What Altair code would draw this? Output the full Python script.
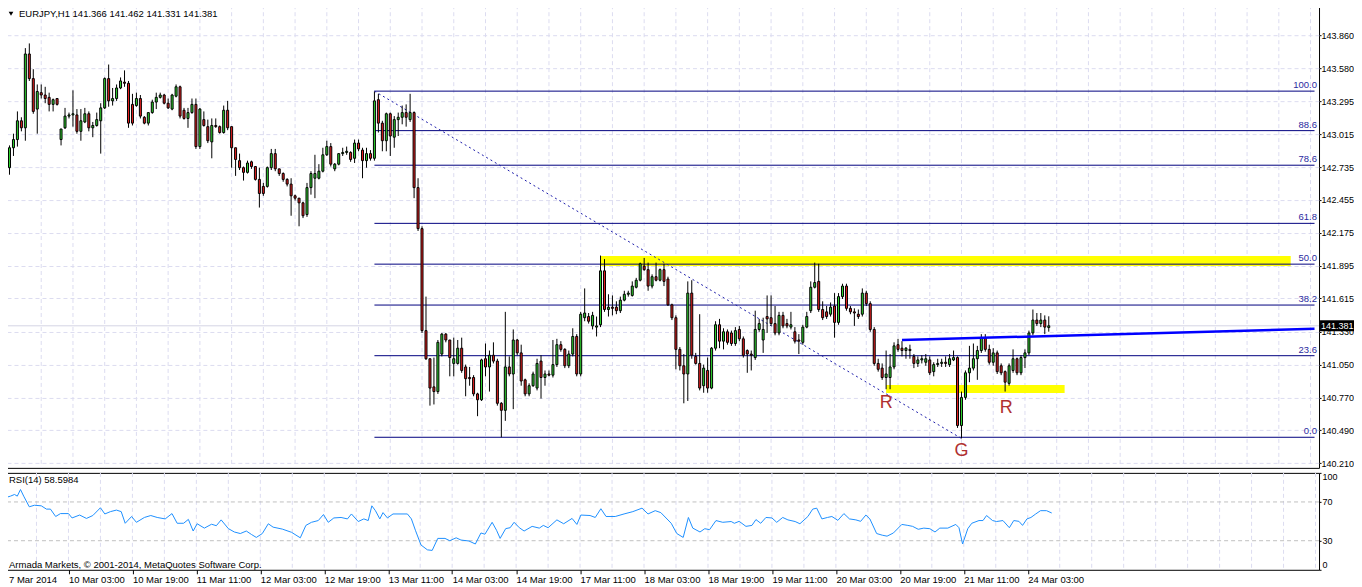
import altair as alt
import pandas as pd

FONT = "Liberation Sans"

# ---------------- candle data (EURJPY H1), bar index 0..262 ----------------
opens = [
    142.73, 142.90, 142.97, 143.13, 143.07, 143.70, 143.49, 143.23, 143.37, 143.35,
    143.33, 143.27, 143.32, 142.97, 143.07, 143.17, 143.18, 143.18, 143.04, 143.12,
    143.19, 143.07, 143.09, 143.13, 143.24, 143.49, 143.30, 143.32, 143.41, 143.46,
    143.45, 143.27, 143.26, 143.32, 143.16, 143.11, 143.20, 143.29, 143.33, 143.35,
    143.28, 143.23, 143.34, 143.42, 143.22, 143.15, 143.20, 143.27, 142.91, 143.14,
    143.08, 142.95, 143.09, 143.08, 143.03, 143.22, 143.08, 142.90, 142.79, 142.73,
    142.69, 142.78, 142.74, 142.63, 142.57, 142.57, 142.73, 142.85, 142.72, 142.68,
    142.63, 142.59, 142.49, 142.47, 142.43, 142.33, 142.56, 142.64, 142.64, 142.70,
    142.84, 142.91, 142.72, 142.76, 142.85, 142.86, 142.86, 142.81, 142.94, 142.88,
    142.79, 142.85, 142.81, 143.31, 143.11, 142.96, 143.19, 142.99, 143.14, 143.16,
    143.20, 143.14, 143.20, 142.56, 142.21, 141.34, 141.10, 140.86, 140.82, 141.14,
    141.31, 141.26, 141.06, 141.06, 141.19, 141.03, 140.94, 140.94, 140.80, 140.75,
    141.10, 141.03, 141.13, 141.08, 140.72, 140.66, 141.03, 140.97, 141.26, 141.15,
    140.92, 140.80, 140.87, 140.85, 141.08, 140.94, 140.97, 140.96, 141.05, 141.22,
    141.18, 141.04, 141.14, 141.29, 140.97, 141.45, 141.46, 141.38, 141.37, 141.39,
    141.85, 141.52, 141.54, 141.54, 141.51, 141.60, 141.65, 141.64, 141.71, 141.77,
    141.89, 141.86, 141.72, 141.80, 141.77, 141.86, 141.78, 141.56, 141.45, 141.18,
    141.04, 140.97, 141.66, 141.12, 141.06, 140.87, 141.00, 140.85, 141.19, 141.39,
    141.25, 141.33, 141.32, 141.23, 141.35, 141.27, 141.17, 141.14, 141.11, 141.35,
    141.26, 141.46, 141.45, 141.40, 141.32, 141.47, 141.40, 141.37, 141.33, 141.26,
    141.24, 141.37, 141.51, 141.71, 141.76, 141.52, 141.50, 141.48, 141.55, 141.41,
    141.63, 141.72, 141.53, 141.50, 141.48, 141.48, 141.66, 141.57, 141.35, 141.06,
    141.02, 140.94, 140.94, 141.03, 141.22, 141.19, 141.17, 141.18, 141.12, 141.06,
    141.09, 141.07, 141.09, 140.99, 141.05, 141.06, 141.07, 141.05, 141.09, 141.11,
    140.53, 140.77, 140.98, 141.02, 141.10, 141.17, 141.28, 141.18, 141.07, 141.15,
    141.04, 140.99, 140.89, 141.00, 141.10, 140.98, 141.11, 141.15, 141.32, 141.43,
    141.40, 141.43, 141.366,
]
highs = [
    142.92, 143.02, 143.21, 143.16, 143.75, 143.79, 143.57, 143.44, 143.44, 143.42,
    143.37, 143.32, 143.32, 143.06, 143.24, 143.20, 143.39, 143.23, 143.23, 143.24,
    143.21, 143.12, 143.20, 143.28, 143.50, 143.61, 143.41, 143.44, 143.50, 143.56,
    143.47, 143.36, 143.37, 143.35, 143.17, 143.20, 143.31, 143.37, 143.37, 143.36,
    143.32, 143.36, 143.44, 143.43, 143.24, 143.24, 143.32, 143.32, 143.24, 143.21,
    143.14, 143.15, 143.15, 143.09, 143.26, 143.30, 143.08, 142.90, 142.85, 142.74,
    142.79, 142.79, 142.74, 142.73, 142.60, 142.74, 142.89, 142.89, 142.72, 142.69,
    142.64, 142.64, 142.50, 142.47, 142.44, 142.60, 142.70, 142.84, 142.76, 142.90,
    142.96, 142.94, 142.77, 142.85, 142.90, 142.91, 142.87, 142.97, 142.97, 142.90,
    142.90, 142.88, 143.38, 143.36, 143.13, 143.20, 143.20, 143.17, 143.20, 143.26,
    143.27, 143.36, 143.21, 142.64, 142.23, 141.63, 141.10, 141.11, 141.26, 141.32,
    141.32, 141.26, 141.28, 141.26, 141.28, 141.05, 141.03, 140.96, 140.81, 141.10,
    141.23, 141.17, 141.24, 141.10, 140.73, 141.50, 141.12, 141.35, 141.27, 141.22,
    140.93, 140.89, 140.99, 141.10, 141.13, 141.00, 141.00, 141.26, 141.27, 141.25,
    141.19, 141.17, 141.36, 141.31, 141.50, 141.70, 141.49, 141.50, 141.46, 141.98,
    141.95, 141.65, 141.64, 141.59, 141.63, 141.68, 141.68, 141.76, 141.79, 141.92,
    141.96, 141.92, 141.82, 141.92, 141.87, 141.91, 141.80, 141.57, 141.47, 141.20,
    141.14, 141.76, 141.77, 141.15, 141.48, 141.05, 141.11, 141.20, 141.42, 141.44,
    141.36, 141.35, 141.34, 141.37, 141.38, 141.29, 141.18, 141.17, 141.51, 141.44,
    141.45, 141.64, 141.64, 141.55, 141.50, 141.50, 141.44, 141.50, 141.37, 141.31,
    141.39, 141.50, 141.76, 141.92, 141.91, 141.59, 141.55, 141.58, 141.66, 141.66,
    141.74, 141.74, 141.55, 141.53, 141.52, 141.70, 141.68, 141.59, 141.37, 141.10,
    141.06, 141.17, 141.14, 141.24, 141.27, 141.25, 141.20, 141.22, 141.14, 141.12,
    141.13, 141.14, 141.12, 141.07, 141.10, 141.10, 141.12, 141.14, 141.17, 141.12,
    140.82, 141.00, 141.21, 141.23, 141.21, 141.31, 141.31, 141.22, 141.19, 141.17,
    141.06, 141.00, 141.06, 141.18, 141.11, 141.13, 141.18, 141.34, 141.52, 141.49,
    141.49, 141.47, 141.462,
]
lows = [
    142.67, 142.83, 142.91, 143.04, 142.96, 143.47, 143.19, 143.02, 143.32, 143.28,
    143.21, 143.21, 143.26, 142.92, 143.06, 143.15, 143.08, 143.02, 142.96, 143.11,
    143.04, 142.99, 143.08, 142.85, 143.23, 143.25, 143.26, 143.30, 143.40, 143.42,
    143.07, 143.09, 143.25, 143.15, 143.10, 143.09, 143.19, 143.23, 143.32, 143.27,
    143.23, 143.22, 143.33, 143.15, 143.14, 143.07, 143.19, 142.89, 142.89, 143.08,
    142.94, 142.81, 143.07, 143.02, 143.02, 143.05, 142.73, 142.66, 142.71, 142.62,
    142.68, 142.72, 142.62, 142.39, 142.49, 142.56, 142.71, 142.70, 142.66, 142.61,
    142.57, 142.32, 142.45, 142.23, 142.30, 142.31, 142.50, 142.47, 142.63, 142.69,
    142.83, 142.74, 142.70, 142.75, 142.83, 142.84, 142.78, 142.77, 142.87, 142.64,
    142.73, 142.79, 142.79, 143.03, 142.87, 142.87, 142.83, 142.90, 143.00, 143.10,
    143.08, 143.12, 142.47, 142.19, 141.32, 141.09, 140.70, 140.71, 140.80, 141.12,
    141.24, 140.95, 140.95, 141.05, 140.98, 140.78, 140.87, 140.78, 140.61, 140.74,
    140.95, 140.82, 141.06, 140.70, 140.43, 140.57, 140.95, 140.67, 141.13, 140.87,
    140.78, 140.78, 140.86, 140.83, 140.76, 140.87, 140.95, 140.94, 141.03, 141.16,
    141.02, 141.02, 141.12, 140.95, 140.95, 141.42, 141.40, 141.35, 141.29, 141.37,
    141.50, 141.46, 141.47, 141.48, 141.49, 141.59, 141.63, 141.63, 141.70, 141.76,
    141.85, 141.68, 141.70, 141.76, 141.76, 141.72, 141.55, 141.43, 141.01, 141.00,
    140.72, 140.74, 141.10, 141.05, 140.83, 140.81, 140.81, 140.84, 141.17, 141.19,
    141.18, 141.22, 141.21, 141.21, 141.25, 141.11, 140.98, 141.00, 141.09, 141.33,
    141.15, 141.32, 141.38, 141.30, 141.30, 141.36, 141.36, 141.35, 141.23, 141.14,
    141.22, 141.36, 141.49, 141.70, 141.50, 141.43, 141.44, 141.46, 141.28, 141.39,
    141.61, 141.51, 141.48, 141.38, 141.44, 141.46, 141.55, 141.33, 141.04, 140.99,
    140.92, 140.84, 140.84, 141.01, 141.16, 141.12, 141.10, 141.10, 141.02, 141.03,
    141.06, 141.04, 140.96, 140.95, 141.03, 141.03, 141.03, 141.03, 141.08, 140.51,
    140.42, 140.75, 140.90, 141.00, 140.92, 141.15, 141.16, 141.05, 141.04, 140.97,
    140.96, 140.82, 140.87, 140.98, 140.96, 140.96, 141.02, 141.13, 141.30, 141.38,
    141.37, 141.31, 141.331,
]
closes = [
    142.90, 142.97, 143.13, 143.07, 143.70, 143.49, 143.21, 143.38, 143.35, 143.32,
    143.27, 143.31, 143.27, 143.06, 143.17, 143.18, 143.19, 143.04, 143.13, 143.19,
    143.07, 143.09, 143.14, 143.24, 143.49, 143.30, 143.32, 143.41, 143.47, 143.45,
    143.11, 143.11, 143.32, 143.17, 143.11, 143.20, 143.29, 143.33, 143.35, 143.28,
    143.24, 143.35, 143.42, 143.17, 143.15, 143.20, 143.27, 142.91, 143.23, 143.09,
    142.96, 143.09, 143.08, 143.03, 143.22, 143.07, 142.90, 142.80, 142.73, 142.69,
    142.77, 142.74, 142.63, 142.51, 142.51, 142.73, 142.85, 142.72, 142.68, 142.63,
    142.59, 142.49, 142.47, 142.43, 142.32, 142.56, 142.68, 142.68, 142.70, 142.84,
    142.91, 142.76, 142.76, 142.85, 142.86, 142.87, 142.80, 142.94, 142.89, 142.79,
    142.85, 142.81, 143.30, 143.11, 142.96, 143.19, 143.00, 143.14, 143.16, 143.20,
    143.16, 143.20, 142.56, 142.21, 141.34, 141.10, 140.85, 140.82, 141.24, 141.31,
    141.26, 141.11, 141.10, 141.19, 141.00, 140.93, 140.93, 140.80, 140.75, 141.09,
    141.03, 141.13, 141.08, 140.72, 140.66, 141.03, 140.97, 141.26, 141.15, 140.91,
    140.80, 140.87, 140.97, 141.06, 140.94, 140.97, 140.96, 141.05, 141.22, 141.18,
    141.04, 141.14, 141.29, 140.97, 141.48, 141.49, 141.42, 141.47, 141.38, 141.85,
    141.52, 141.54, 141.53, 141.51, 141.60, 141.65, 141.66, 141.72, 141.77, 141.91,
    141.86, 141.72, 141.80, 141.77, 141.86, 141.76, 141.56, 141.45, 141.18, 141.04,
    140.97, 141.66, 141.13, 141.06, 140.85, 141.02, 140.85, 141.19, 141.39, 141.25,
    141.33, 141.24, 141.23, 141.34, 141.27, 141.13, 141.14, 141.13, 141.35, 141.40,
    141.35, 141.44, 141.40, 141.32, 141.47, 141.38, 141.38, 141.39, 141.25, 141.25,
    141.37, 141.46, 141.71, 141.75, 141.52, 141.45, 141.46, 141.54, 141.41, 141.63,
    141.72, 141.53, 141.50, 141.49, 141.46, 141.66, 141.57, 141.35, 141.06, 141.01,
    140.94, 140.97, 141.03, 141.21, 141.18, 141.17, 141.19, 141.17, 141.06, 141.09,
    141.10, 141.10, 140.98, 141.05, 141.06, 141.07, 141.06, 141.10, 141.11, 140.53,
    140.77, 140.98, 141.02, 141.10, 141.17, 141.28, 141.18, 141.07, 141.15, 140.99,
    140.98, 140.90, 141.04, 141.10, 140.98, 141.11, 141.15, 141.32, 141.43, 141.40,
    141.43, 141.37, 141.381,
]

# ---------------- RSI(14) readings (bar index, value) ----------------
rsi_bars = [
    0.2, 1.5, 2.5, 3.2, 4, 4.8, 6.2, 7.5, 9.2, 10.5,
    11.5, 12.8, 14, 16, 16.9, 18.8, 20.5, 22.1, 24, 25.1,
    26.5, 28, 29.2, 30.2, 31.8, 33, 35, 36.6, 38.2, 40.2,
    41.9, 43.2, 44.8, 46, 47.2, 48.2, 50, 51.8, 53, 54.2,
    56, 57.5, 59, 60.5, 61.8, 63, 64.5, 66, 67.2, 69.5,
    71.8, 74, 75.4, 76.8, 78.5, 79.8, 81, 82.4, 84.2, 85.8,
    86.8, 88.5, 89.9, 91, 91.9, 92.8, 93.9, 94.7, 95.8, 97.2,
    99.2, 100.8, 101.8, 102.8, 104.2, 105.8, 107, 108.4, 110.2, 111.4,
    113, 114.2, 116.2, 117.8, 119.2, 120.2, 122, 123.1, 124, 125.4,
    126.5, 127.5, 128.8, 130, 132, 133.8, 134.8, 136, 138.2, 139.9,
    142, 143.2, 144.2, 146.5, 147.8, 149.2, 150.5, 152.8, 155, 157.2,
    159.5, 161, 162.8, 164.2, 166.8, 168.2, 169.8, 171.1, 172.2, 174,
    175.2, 176.4, 178, 179.7, 181.8, 182.6, 183.8, 185.5, 187, 188,
    189.2, 190.5, 192, 193.2, 194.7, 196, 197.8, 199, 201, 202.2,
    203.2, 204.5, 205.9, 207, 208.5, 210, 211.4, 213, 214.2, 215.5,
    216.5, 218.2, 219.6, 220.8, 222.4, 224.5, 226, 227.2, 228.6, 230,
    231.5, 232.8, 234, 236, 238, 238.8, 239.7, 241, 242, 243.8,
    244.8, 245.7, 247.2, 248.2, 249.8, 251.4, 252.5, 253.8, 254.7, 255.8,
    256.8, 258, 259.2, 260.7, 262,
]
rsi_vals = [
    74.4, 76, 77.7, 76, 82.8, 76, 65, 66.6, 66, 62.6,
    62.6, 55, 58, 58, 53.5, 56.5, 53, 56, 64, 57.6,
    60, 61.6, 60, 48, 55, 49, 54, 56, 54, 52.5,
    58, 48, 48, 52, 40, 47.5, 43, 47, 45.5, 51.5,
    42.5, 39, 37.4, 40, 36.4, 33.4, 37.4, 47.5, 44, 42,
    38.7, 33, 45.8, 49, 50.8, 57, 49, 53.5, 54, 52.5,
    57.6, 49.8, 52.5, 50.8, 66, 61, 52.5, 59, 53.5, 57.6,
    57.6, 57.6, 52.5, 40.8, 25.6, 20.6, 20, 32.4, 32.4, 30,
    33, 30.7, 29.7, 26.6, 38, 36.7, 49, 40.8, 32.4, 42.5,
    43.4, 49, 43.4, 40, 44.8, 43, 45.8, 43.4, 51.5, 47.5,
    53, 46.8, 56.5, 56, 54, 63, 55, 55, 57.6, 60,
    63.6, 57.6, 61, 59, 48, 37.4, 33.4, 54, 43, 39,
    42.4, 41.4, 50.8, 49, 49.8, 48, 50, 44.8, 45.8, 51.8,
    48, 54, 53.5, 49, 54, 51.5, 49.8, 47.5, 55, 62.6,
    63.6, 52.5, 54, 55, 51, 58, 52.5, 51.5, 50, 56.5,
    52.5, 37.4, 35.7, 34.7, 38, 46.8, 45.8, 44.8, 41.8, 43,
    42.4, 39, 43, 43, 46.8, 43.4, 26.6, 42.4, 48, 50.8,
    50.8, 56, 50.8, 49.8, 50.8, 43.4, 50.8, 50, 45.8, 52.5,
    54, 57.6, 61, 61, 58.6,
]
rsi_levels = [30, 70]
rsi_ticks = [0, 30, 70, 100]

# ---------------- axes ----------------
price_ticks = [143.860, 143.580, 143.295, 143.015, 142.735, 142.455, 142.175,
               141.895, 141.615, 141.330, 141.050, 140.770, 140.490, 140.210]
time_label_bars = [0, 16, 32, 48, 64, 80, 96, 112, 128, 144, 160, 176, 192, 208, 224, 240, 256]
time_labels = ["7 Mar 2014", "10 Mar 03:00", "10 Mar 19:00", "11 Mar 11:00", "12 Mar 03:00",
               "12 Mar 19:00", "13 Mar 11:00", "14 Mar 03:00", "14 Mar 19:00", "17 Mar 11:00",
               "18 Mar 03:00", "18 Mar 19:00", "19 Mar 11:00", "20 Mar 03:00", "20 Mar 19:00",
               "21 Mar 11:00", "24 Mar 03:00"]
grid_bars = list(range(8, 329, 8))

# ---------------- drawings ----------------
fib_levels = ["0.0", "23.6", "38.2", "50.0", "61.8", "78.6", "88.6", "100.0"]
fib_prices = [140.430, 141.126, 141.558, 141.907, 142.255, 142.751, 143.046, 143.383]
fib_start_bar = 92
fib_end_bar = 329
diag_bars = [92, 240]
diag_prices = [143.383, 140.42]
zone_start = [149, 221]
zone_end = [323, 266]
zone_top = [141.976, 140.876]
zone_bottom = [141.891, 140.808]
trend_bars = [225, 329]
trend_prices = [141.26, 141.355]
mark_bars = [221, 251.25, 240]
mark_prices = [140.723, 140.68, 140.314]
mark_texts = ["R", "R", "G"]
bid_price = [141.381]
bid_text = ["141.381"]
title_text = "EURJPY,H1  141.366 141.462 141.331 141.381"
rsi_title = "RSI(14) 58.5984"
copyright_text = "Armada Markets, \u00a9 2001-2014, MetaQuotes Software Corp."

UP = "#2fd42f"
DOWN = "#e41f1f"
GRID = "#dcdcf0"
NAVY = "#000080"

W = 1317
H_MAIN = 463
H_RSI = 97

x_scale = alt.Scale(domain=[-0.375, 328.875], nice=False, zero=False)
y_scale = alt.Scale(domain=[140.169, 144.116], nice=False, zero=False)
r_scale = alt.Scale(domain=[0, 100], nice=False, zero=False)

label_style = dict(labelFont=FONT, labelColor="black", labelOverlap=False,
                   domain=False, title=None, tickColor="black")
AY = alt.Axis(orient="right", values=price_ticks, format=".3f", grid=True, gridColor=GRID,
              gridDash=[4, 3], gridWidth=1, tickSize=2, labelPadding=0, labelFontSize=9,
              **label_style)
label_js = "[" + ",".join("'" + s + "'" for s in time_labels) + "][round(datum.value/16)]"
AX = alt.Axis(orient="bottom", values=time_label_bars[1:], labelExpr=label_js, labelAlign="left",
              labelBaseline="top", tickSize=4, labelPadding=1, grid=False, labelFlush=False,
              labelFontSize=9.5, **label_style)
AR = alt.Axis(orient="right", values=rsi_ticks, tickSize=2, grid=False, labelPadding=1,
              labelFlush=True, labelFontSize=9, **label_style)

candles = pd.DataFrame({
    "bar": list(range(len(opens))),
    "open": opens, "high": highs, "low": lows, "close": closes,
})
candles["dir"] = ["up" if c >= o else "down" for o, c in zip(opens, closes)]

grid_df = pd.DataFrame({"bar": grid_bars})
bid_df = pd.DataFrame({"price": bid_price, "t": bid_text})
zones_df = pd.DataFrame({"x0": zone_start, "x1": zone_end, "y0": zone_bottom, "y1": zone_top})
fib_df = pd.DataFrame({"level": fib_levels, "price": fib_prices,
                       "x0": [fib_start_bar] * len(fib_prices), "x1": [fib_end_bar] * len(fib_prices)})
diag_df = pd.DataFrame({"bar": diag_bars, "price": diag_prices})
trend_df = pd.DataFrame({"bar": trend_bars, "price": trend_prices})
marks_df = pd.DataFrame({"bar": mark_bars, "price": mark_prices, "t": mark_texts})
title_df = pd.DataFrame({"t": [title_text]})


def X(f):
    return alt.X(f, scale=x_scale, axis=None)


def Y(f):
    return alt.Y(f, scale=y_scale, axis=AY)


vgrid = alt.Chart(grid_df).mark_rule(color=GRID, strokeDash=[4, 3], strokeWidth=1).encode(x=X("bar:Q"))

bid_line = alt.Chart(bid_df).mark_rule(color="#d4d4e4", strokeWidth=1).encode(y=Y("price:Q"))

zones = alt.Chart(zones_df).mark_rect(color="#ffff00").encode(
    x=X("x0:Q"), x2="x1:Q", y=Y("y0:Q"), y2="y1:Q")

fib_lines = alt.Chart(fib_df).mark_rule(color=NAVY, strokeWidth=1).encode(
    x=X("x0:Q"), x2="x1:Q", y=Y("price:Q"))

fib_labels = alt.Chart(fib_df).mark_text(align="right", baseline="bottom", dy=-1,
                                         font=FONT, fontSize=9.5, color="#2a2aa0").encode(
    x=alt.value(W - 2), y=Y("price:Q"), text="level:N")

diag = alt.Chart(diag_df).mark_line(color="#1c1caa", strokeDash=[2, 3], strokeWidth=1).encode(
    x=X("bar:Q"), y=Y("price:Q"))

wicks = alt.Chart(candles).mark_rule(color="black", strokeWidth=1).encode(
    x=X("bar:Q"), y=Y("low:Q"), y2="high:Q")

bodies = alt.Chart(candles).mark_bar(size=2, stroke="black", strokeWidth=1).encode(
    x=X("bar:Q"), y=Y("open:Q"), y2="close:Q",
    color=alt.Color("dir:N", scale=alt.Scale(domain=["up", "down"], range=[UP, DOWN]), legend=None))

trend = alt.Chart(trend_df).mark_line(color="#0000ff", strokeWidth=2.5).encode(
    x=X("bar:Q"), y=Y("price:Q"))

letters = alt.Chart(marks_df).mark_text(font=FONT, fontSize=18, color="#b03030",
                                         baseline="middle", align="center").encode(
    x=X("bar:Q"), y=Y("price:Q"), text="t:N")

tag = alt.Chart(bid_df).mark_tick(orient="horizontal", size=42, thickness=11, color="black",
                                  opacity=1).encode(x=alt.value(W + 22), y=Y("price:Q"))
tag_text = alt.Chart(bid_df).mark_text(font=FONT, fontSize=9, color="white",
                                        align="left", baseline="middle").encode(
    x=alt.value(W + 2), y=Y("price:Q"), text="t:N")

tri = alt.Chart(title_df).mark_point(shape="triangle-down", filled=True, color="black",
                                      size=22, opacity=1).encode(x=alt.value(8), y=alt.value(8.5))
title = alt.Chart(title_df).mark_text(font=FONT, fontSize=9.5, color="black",
                                      align="left", baseline="middle").encode(
    x=alt.value(16), y=alt.value(9), text="t:N")

main = alt.layer(vgrid, bid_line, zones, fib_lines, fib_labels, diag, wicks, bodies,
                 trend, letters, tag, tag_text, tri, title).properties(width=W, height=H_MAIN)

# ---------------- RSI panel ----------------
rsi_df = pd.DataFrame({"bar": rsi_bars[:len(rsi_vals)], "rsi": rsi_vals[:len(rsi_bars)]})
lvl_df = pd.DataFrame({"v": rsi_levels})
rsi_text_df = pd.DataFrame({"t": [rsi_title], "c": [copyright_text], "d": [time_labels[0]]})

rsi_grid = alt.Chart(grid_df).mark_rule(color=GRID, strokeDash=[4, 3], strokeWidth=1).encode(
    x=alt.X("bar:Q", scale=x_scale, axis=AX))

rsi_lvls = alt.Chart(lvl_df).mark_rule(color="#c0c0c0", strokeDash=[4, 3], strokeWidth=1).encode(
    y=alt.Y("v:Q", scale=r_scale, axis=AR))

rsi_line = alt.Chart(rsi_df).mark_line(color="#1e90ff", strokeWidth=1).encode(
    x=alt.X("bar:Q", scale=x_scale, axis=AX),
    y=alt.Y("rsi:Q", scale=r_scale, axis=AR))

rsi_t1 = alt.Chart(rsi_text_df).mark_text(font=FONT, fontSize=9.5, color="black",
                                          align="left", baseline="middle").encode(
    x=alt.value(6), y=alt.value(7), text="t:N")
rsi_t2 = alt.Chart(rsi_text_df).mark_text(font=FONT, fontSize=9.5, color="black",
                                          align="left", baseline="middle").encode(
    x=alt.value(6), y=alt.value(92), text="c:N")
first_date = alt.Chart(rsi_text_df).mark_text(font=FONT, fontSize=9.5, color="black",
                                              align="left", baseline="top").encode(
    x=alt.value(6), y=alt.value(H_RSI + 5), text="d:N")

rsi = alt.layer(rsi_grid, rsi_lvls, rsi_line, rsi_t1, rsi_t2, first_date).properties(
    width=W, height=H_RSI)

chart = alt.vconcat(main, rsi, spacing=3).properties(
    padding={"left": -6, "top": -4, "right": -9, "bottom": 0},
    background="white",
).configure_view(stroke="black", strokeWidth=1)

chart.save("out.html", embed_options={"renderer": "svg", "actions": False})
